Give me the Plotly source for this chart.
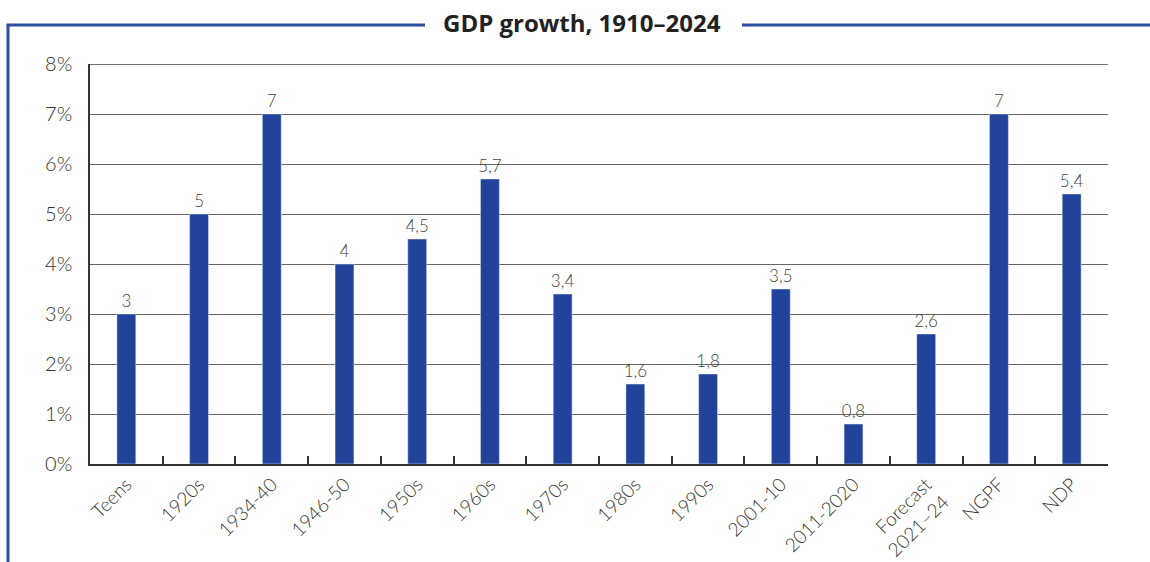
import plotly.graph_objects as go

categories = ["Teens", "1920s", "1934-40", "1946-50", "1950s", "1960s", "1970s",
              "1980s", "1990s", "2001-10", "2011-2020", "Forecast<br>2021–24", "NGPF", "NDP"]
values = [3, 5, 7, 4, 4.5, 5.7, 3.4, 1.6, 1.8, 3.5, 0.8, 2.6, 7, 5.4]
value_labels = ["3", "5", "7", "4", "4,5", "5,7", "3,4", "1,6", "1,8", "3,5", "0,8", "2,6", "7", "5,4"]
y_ticks = [0, 1, 2, 3, 4, 5, 6, 7, 8]
y_tick_labels = ["0%", "1%", "2%", "3%", "4%", "5%", "6%", "7%", "8%"]
title = "GDP growth, 1910–2024"

W, H = 1150, 562
L, R, T, B = 90, 42, 64, 98
pw, ph = W - L - R, H - T - B

def px(x):
    return (x - L) / pw

def py(y):
    return (H - B - y) / ph

BLUE = "#21439a"
FRAME = "#2c4f9e"
TXT = "#333333"
FONT = "Lato"

fig = go.Figure(go.Bar(
    x=categories, y=values, marker_color=BLUE, width=0.26,
    text=value_labels, textposition="outside", cliponaxis=False, constraintext="none",
    textfont=dict(family=FONT, size=17, color="#444444", weight=300),
))

fig.update_layout(
    width=W, height=H, margin=dict(l=L, r=R, t=T, b=B, autoexpand=False),
    plot_bgcolor="white", paper_bgcolor="white", showlegend=False,
    font=dict(family=FONT, color=TXT),
    xaxis=dict(type="category", automargin=False, showline=True, linecolor="#333333", linewidth=2,
               ticks="inside", tickson="boundaries", ticklen=8, tickcolor="#333333", tickwidth=1.5,
               tickangle=-45, tickfont=dict(family=FONT, size=19, color=TXT, weight=300),
               showgrid=False),
    yaxis=dict(range=[0, 8], automargin=False, tickvals=y_ticks, ticktext=y_tick_labels,
               showline=True, linecolor="#333333", linewidth=1.5,
               gridcolor="#666666", gridwidth=1, zeroline=False,
               tickfont=dict(family=FONT, size=20, color=TXT, weight=300), ticks="", ticklabelstandoff=12),
    shapes=[
        dict(type="line", xref="paper", yref="paper", x0=px(8), x1=px(8), y0=py(25), y1=py(562),
             line=dict(color=FRAME, width=3)),
        dict(type="line", xref="paper", yref="paper", x0=px(6.5), x1=px(425), y0=py(25), y1=py(25),
             line=dict(color=FRAME, width=3)),
        dict(type="line", xref="paper", yref="paper", x0=px(742), x1=px(1150), y0=py(25), y1=py(25),
             line=dict(color=FRAME, width=3)),
        dict(type="line", xref="paper", yref="y", x0=0, x1=1, y0=8, y1=8,
             line=dict(color="#444444", width=1.5)),
    ],
    annotations=[
        dict(text="<b>" + title + "</b>", xref="paper", yref="paper", x=px(582), y=py(23),
             showarrow=False, xanchor="center", yanchor="middle",
             font=dict(family="Open Sans", size=24, color="#222222")),
    ],
)

fig.write_html("out.html")
